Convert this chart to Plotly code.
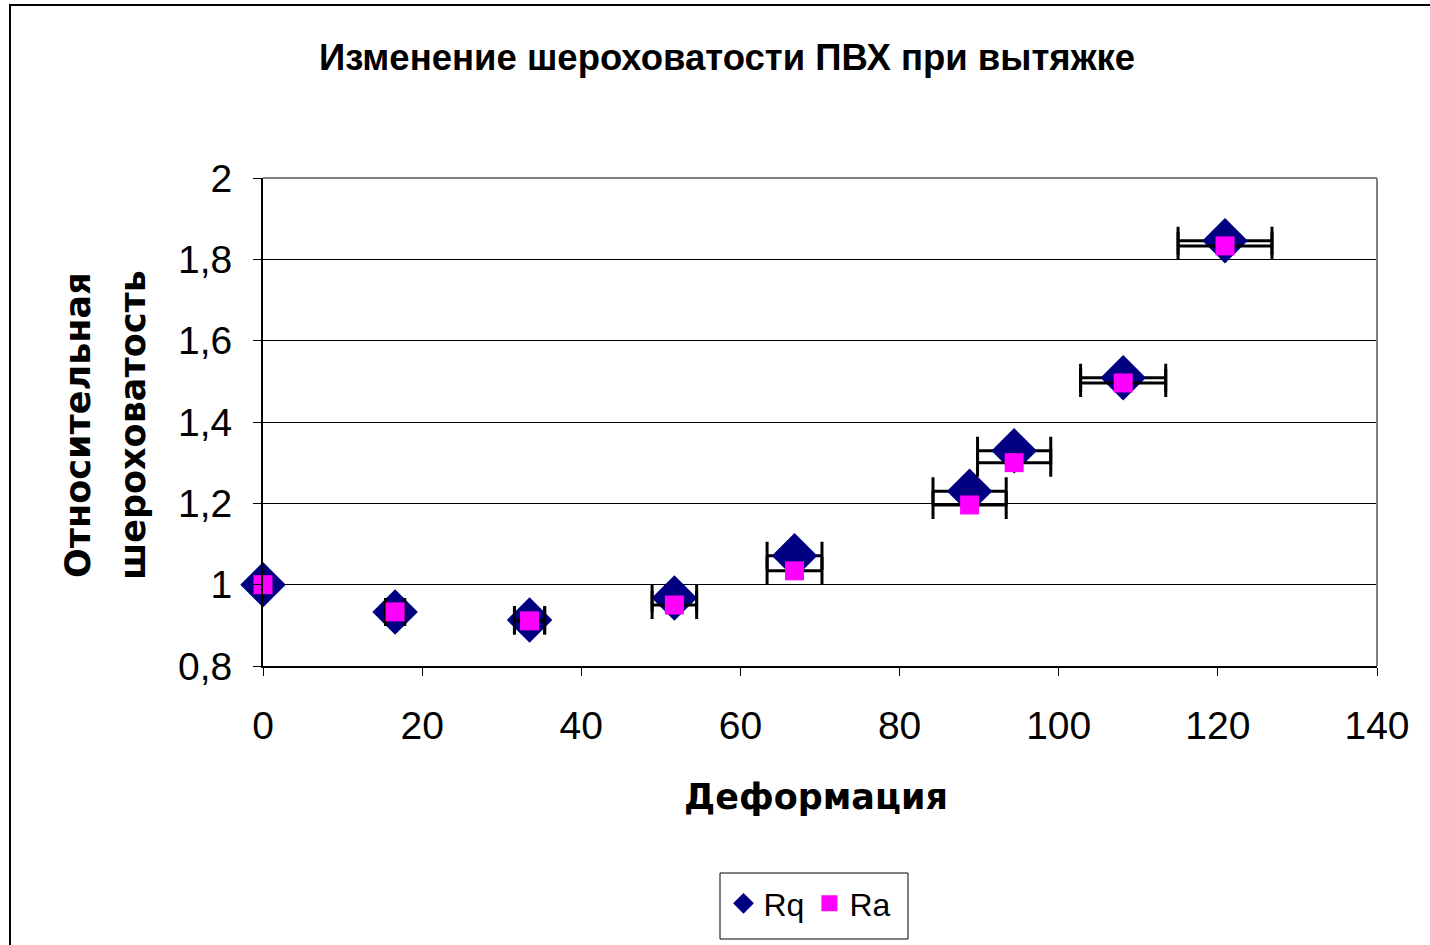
import plotly.graph_objects as go

# Relative roughness of PVC versus draw ratio
deformation = [0, 16.6, 33.5, 51.7, 66.8, 88.8, 94.4, 108.1, 120.9]
rq = [1.0, 0.933, 0.913, 0.967, 1.071, 1.230, 1.329, 1.509, 1.846]
ra = [1.0, 0.933, 0.911, 0.950, 1.034, 1.196, 1.300, 1.496, 1.833]
deform_err = [0, 1.2, 1.9, 2.8, 3.45, 4.6, 4.6, 5.35, 5.9]

x_ticks = [0, 20, 40, 60, 80, 100, 120, 140]
y_ticks = [0.8, 1.0, 1.2, 1.4, 1.6, 1.8, 2.0]

FONT = "Liberation Sans, Arial, sans-serif"
WIDE = "DejaVu Sans, Liberation Sans, sans-serif"

err = dict(type="data", array=deform_err, visible=True,
           color="#000000", thickness=3, width=14)

fig = go.Figure()
fig.add_trace(go.Scatter(
    x=deformation, y=rq, mode="markers", name="Rq", cliponaxis=False,
    marker=dict(symbol="diamond", size=35, color="#000080",
                line=dict(width=0)),
    error_x=err,
))
fig.add_trace(go.Scatter(
    x=deformation, y=ra, mode="markers", name="Ra", cliponaxis=False,
    marker=dict(symbol="square", size=19, color="#FF00FF",
                line=dict(width=0)),
    error_x=err,
))

L, R, T, B = 263, 53, 178, 279
W, H = 1430, 945
pw, ph = W - L - R, H - T - B

def px_x(p):
    return (p - L) / pw

def px_y(p):
    return (H - B - p) / ph

fig.update_layout(
    width=W, height=H,
    margin=dict(l=L, r=R, t=T, b=B, pad=0),
    paper_bgcolor="white", plot_bgcolor="white",
    separators=", ",
    font=dict(family=FONT, color="#000000"),
    showlegend=True,
    title=dict(text="<b>Изменение шероховатости ПВХ при вытяжке</b>",
               x=727 / W, xanchor="center", y=1 - 57 / H, yanchor="middle",
               font=dict(size=36.5, family=FONT, color="#000000")),
    xaxis=dict(range=[0, 140], tickvals=x_ticks, showgrid=False,
               zeroline=False, showline=True, linecolor="#000000",
               linewidth=2, ticks="outside", ticklen=8, tickwidth=1,
               tickcolor="#000000", ticklabelstandoff=16,
               tickfont=dict(size=39, family=FONT, color="#000000"),
               mirror=False),
    yaxis=dict(range=[0.8, 2.0], tickvals=y_ticks, showgrid=True,
               gridcolor="#000000", gridwidth=1, zeroline=False,
               showline=True, linecolor="#000000", linewidth=2,
               ticks="outside", ticklen=8, tickwidth=1,
               tickcolor="#000000", ticklabelstandoff=13,
               tickfont=dict(size=39, family=FONT, color="#000000")),
    legend=dict(orientation="h", x=px_x(810), xanchor="center",
                y=px_y(876), yanchor="top",
                bgcolor="rgba(0,0,0,0)", borderwidth=0,
                font=dict(size=32, family=FONT, color="#000000"),
                itemwidth=30, tracegroupgap=0),
)

# Plot-area frame on top and right (grey), outer chart frame, legend box
fig.add_shape(type="line", xref="paper", yref="paper",
              x0=0, x1=1, y0=1, y1=1,
              line=dict(color="#808080", width=2))
fig.add_shape(type="line", xref="paper", yref="paper",
              x0=1, x1=1, y0=0, y1=1,
              line=dict(color="#808080", width=2))
fig.add_shape(type="rect", xref="paper", yref="paper",
              x0=px_x(10), x1=px_x(1445), y0=px_y(960), y1=px_y(5),
              line=dict(color="#000000", width=2), layer="below")
fig.add_shape(type="rect", xref="paper", yref="paper",
              x0=px_x(720), x1=px_x(908), y0=px_y(939), y1=px_y(873),
              line=dict(color="#000000", width=1), fillcolor="white",
              layer="below")

# Axis titles
fig.add_annotation(text="<b>Деформация</b>", xref="paper", yref="paper",
                   x=px_x(816), y=px_y(797), xanchor="center",
                   yanchor="middle", showarrow=False,
                   font=dict(size=35, family=WIDE, color="#000000"))
fig.add_annotation(text="<b>Относительная</b>", xref="paper", yref="paper",
                   x=px_x(78), y=px_y(425), xanchor="center",
                   yanchor="middle", showarrow=False, textangle=-90,
                   font=dict(size=35, family=WIDE, color="#000000"))
fig.add_annotation(text="<b>шероховатость</b>", xref="paper", yref="paper",
                   x=px_x(133), y=px_y(425), xanchor="center",
                   yanchor="middle", showarrow=False, textangle=-90,
                   font=dict(size=35, family=WIDE, color="#000000"))

fig.write_html("out.html")
